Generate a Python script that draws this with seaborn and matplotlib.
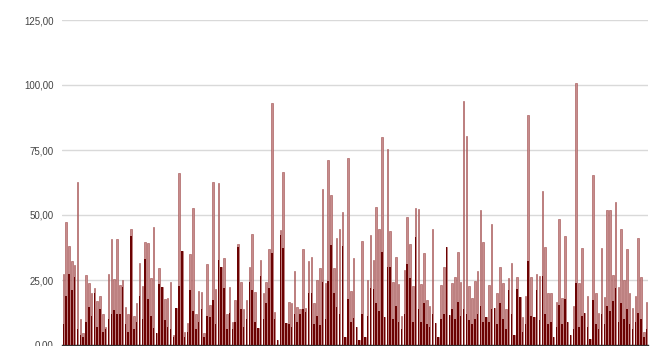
import matplotlib
matplotlib.use("Agg")
import matplotlib.pyplot as plt
import seaborn as sns
import pandas as pd

# Full height of each bar
values_total = [
    27.3, 47.4, 38, 32.4, 30.8, 62.8, 10, 4.5, 27, 23.7, 20, 22, 17, 19, 12, 7, 27.5,
    40.6, 25.4, 40.6, 23, 25, 14.7, 12, 44.5, 11, 16, 31.7, 22.7, 39.7, 39.4, 25.6, 45.5,
    4.5, 29.7, 22.4, 17.6, 18, 24.4, 4, 14.4, 66.3, 36, 5, 8.3, 35, 52.8, 11.8, 20.8,
    20.3, 4.5, 31, 15.4, 62.8, 21.4, 62.2, 30, 33.3, 12, 22.4, 9, 17.3, 39, 24.2, 13.7,
    17.3, 30,
    42.7, 20.5, 6.7, 32.7, 20, 24.4, 36.8, 93.2, 12.8, 2, 44.2, 66.7, 8.6, 16.7, 16.3,
    28.5, 14.7, 14, 36.8, 14.4, 32.4, 33.7, 16.3, 25, 29.7, 59.9, 24, 71.2, 57.7, 29.7,
    41, 44.5,
    51.3, 3.2, 71.8, 20.9, 33.6, 6.8, 2, 40.1, 3, 25, 42.3, 32.7, 53.2, 44.5, 79.9,
    10.6, 75.3, 44, 24.4, 34, 23.5, 11, 28.8, 49.4, 38.8, 22.7, 52.8, 52.2, 23.5, 35.5,
    17.3, 15, 44.5,
    8.3, 3, 23, 29.9, 37.8, 11.5, 24, 26, 35.9, 24.4, 94, 80.5, 22.7, 18, 24.7, 28.5,
    51.9, 39.7, 10.6, 23, 46.4, 14.1, 20, 30, 23.7, 13.7, 25.6, 31.7, 3.8, 26.3, 18.3,
    10.9, 18.8, 88.5, 26, 10.6, 27.2,
    26.5, 59.4, 37.6, 20.1, 19.9, 3, 16.7, 48.3, 18, 41.9, 9, 4, 15, 100.9, 23.7, 37.2,
    12.2, 18.8, 2.2, 65.4, 19.9, 12.4, 37.2, 18.3, 51.9, 51.9, 26.9, 55.1, 22.4, 44.5,
    25, 36.8, 20.1, 14.1, 18.8, 41, 26, 5.1, 16.7,
]

# Lower, darker portion of each bar
values_part = [
    8, 19, 27.5, 21, 26, 6, 4, 3, 9, 14.5, 11, 20, 7, 14, 5, 6, 10,
    12, 13.5, 12, 12, 22.4, 8, 5, 42, 6, 9, 19, 10, 33, 17.7, 11, 6.4,
    4.5, 23.3, 22.4, 9.6, 7, 6, 3, 14.4, 22.7, 36, 3, 5, 21, 13, 6, 9,
    14, 3, 11, 10.6, 17.3, 8, 32.7, 30, 21.8, 6, 12.2, 6, 9, 37.8, 14, 7,
    10, 24.4,
    21, 9, 6.7, 26.5, 10, 16, 21.8, 35.3, 9.9, 2, 42.3, 37.2, 8.6, 8, 7,
    12, 9, 12, 14, 12.8, 19.9, 19.9, 8, 11, 7.7, 24.4, 10, 24.7, 38.5, 20,
    14.7, 12,
    38, 3.2, 17.6, 9, 10.3, 6.8, 2, 12, 3, 11, 21.8, 21.4, 16.3, 13, 35.9,
    10.6, 30, 29.9, 10, 15, 9, 6, 12, 31.2, 25.6, 9, 41.7, 14, 9, 16,
    8, 7, 12,
    8.3, 3, 10, 12, 37.8, 11.5, 13.7, 10, 16.7, 11, 14, 12, 9.6, 8, 10, 12,
    15, 9, 10.6, 9, 14, 14.1, 8, 16, 10, 6, 21, 12, 3.8, 21.4, 18.3,
    5, 8, 32.4, 11, 10.6, 21.2,
    9.6, 26.5, 12, 8, 9, 3, 7, 15.4, 8, 17.6, 9, 4, 6, 23.7, 6.8, 11.2,
    12.2, 7, 2.2, 17.3, 8, 6, 12, 8, 15, 13, 17, 21.8, 9, 16,
    10, 14, 8, 6, 9, 12.2, 10, 3, 6,
]

y_ticks = [0, 25, 50, 75, 100, 125]
y_labels = ["0,00", "25,00", "50,00", "75,00", "100,00", "125,00"]

n = len(values_total)
df = pd.DataFrame({
    "idx": list(range(n)),
    "total": values_total,
    "part": values_part[:n],
})

sns.set_theme(style="white")
plt.rcParams["font.family"] = ["Liberation Sans", "DejaVu Sans"]

fig = plt.figure(figsize=(6.56, 3.46), dpi=100)
ax = fig.add_axes([62 / 656, 1 / 346, (648 - 62) / 656, (345 - 20) / 346])

sns.barplot(data=df, x="idx", y="total", ax=ax, color="#c68c8c",
            saturation=1, width=0.55, edgecolor="#a04c4c", linewidth=0.4,
            order=list(range(n)), zorder=2)
sns.barplot(data=df, x="idx", y="part", ax=ax, color="#6b0202",
            saturation=1, width=0.55, linewidth=0,
            order=list(range(n)), zorder=3)

ax.set_xlim(-0.5, n - 0.5)
ax.set_ylim(0, 125)
ax.set_yticks(y_ticks)
ax.set_yticklabels(y_labels, fontsize=7, color="#444444")
ax.set_xticks([])
ax.set_xlabel("")
ax.set_ylabel("")
ax.tick_params(axis="y", length=0, pad=6)
ax.yaxis.grid(True, color="#d9d9d9", linewidth=1)
ax.set_axisbelow(True)
for side in ("left", "right", "top"):
    ax.spines[side].set_visible(False)
ax.spines["bottom"].set_color("#333333")
ax.spines["bottom"].set_linewidth(1)

fig.savefig("out.png", dpi=100)
